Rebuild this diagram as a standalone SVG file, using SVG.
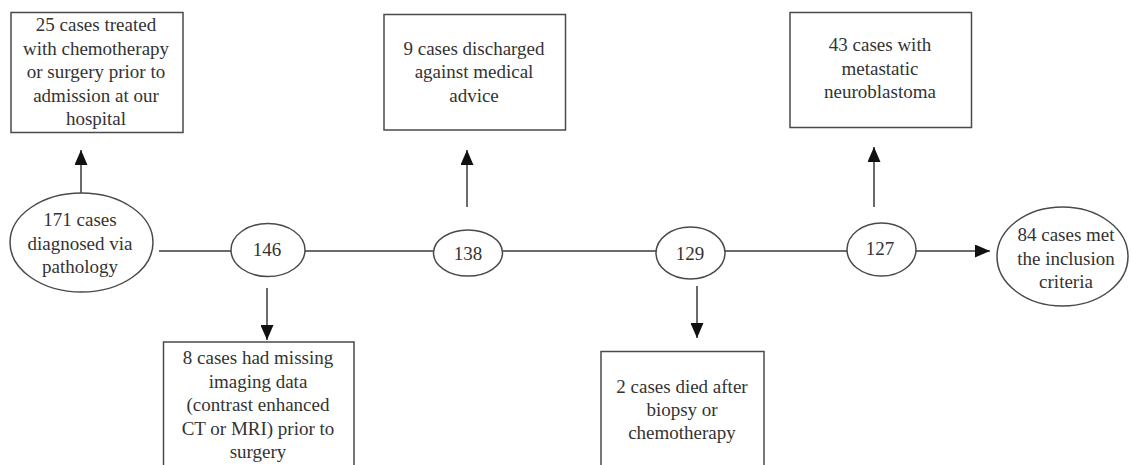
<svg xmlns="http://www.w3.org/2000/svg" width="1131" height="465" viewBox="0 0 1131 465">
  <style>
    .box { fill: #ffffff; stroke: #4a4a4a; stroke-width: 1.5; }
    .ell { fill: #ffffff; stroke: #4a4a4a; stroke-width: 1.5; }
    .t { font-family: "Liberation Serif", "Times New Roman", serif; font-size: 19px; fill: #333333; text-anchor: middle; }
    .ln { stroke: #3a3a3a; stroke-width: 1.5; fill: none; }
    .arr { stroke: #3a3a3a; stroke-width: 1.5; fill: none; marker-end: url(#ah); }
  </style>
  <defs>
    <marker id="ah" markerUnits="userSpaceOnUse" markerWidth="15" markerHeight="13" refX="15" refY="6.5" orient="auto">
      <path d="M0,0 L15,6.5 L0,13 z" fill="#111111"/>
    </marker>
  </defs>
  <rect width="1131" height="465" fill="#ffffff"/>

  <g id="connectors">
    <line class="arr" x1="81" y1="193" x2="81" y2="150"/>
    <line class="ln" x1="159" y1="251" x2="231" y2="251"/>
    <line class="ln" x1="305" y1="251" x2="433" y2="251"/>
    <line class="ln" x1="503" y1="251" x2="656" y2="251"/>
    <line class="ln" x1="725" y1="251" x2="847" y2="251"/>
    <line class="arr" x1="916" y1="251" x2="990" y2="251"/>
    <line class="arr" x1="267" y1="288" x2="267" y2="340"/>
    <line class="arr" x1="467" y1="207" x2="467" y2="150"/>
    <line class="arr" x1="697" y1="286" x2="697" y2="338"/>
    <line class="arr" x1="874" y1="207" x2="874" y2="147"/>
  </g>

  <g id="n171">
    <ellipse class="ell" cx="81.5" cy="242.5" rx="71.5" ry="49.5"/>
    <text class="t" x="80" y="226">171 cases</text>
    <text class="t" x="80" y="249.5">diagnosed via</text>
    <text class="t" x="80" y="273">pathology</text>
  </g>

  <g id="box25">
    <rect class="box" x="11" y="12.5" width="172" height="120"/>
    <text class="t" x="96" y="31">25 cases treated</text>
    <text class="t" x="96" y="54.5">with chemotherapy</text>
    <text class="t" x="96" y="78">or surgery prior to</text>
    <text class="t" x="96" y="101.5">admission at our</text>
    <text class="t" x="96" y="125">hospital</text>
  </g>

  <g id="n146">
    <ellipse class="ell" cx="268" cy="250" rx="37" ry="26.5"/>
    <text class="t" x="267" y="256">146</text>
  </g>

  <g id="box8">
    <rect class="box" x="163.5" y="342" width="190.5" height="130"/>
    <text class="t" x="258" y="364">8 cases had missing</text>
    <text class="t" x="258" y="387.5">imaging data</text>
    <text class="t" x="258" y="411">(contrast enhanced</text>
    <text class="t" x="258" y="434.5">CT or MRI) prior to</text>
    <text class="t" x="258" y="458">surgery</text>
  </g>

  <g id="n138">
    <ellipse class="ell" cx="468" cy="253" rx="34.5" ry="23"/>
    <text class="t" x="468" y="259.5">138</text>
  </g>

  <g id="box9">
    <rect class="box" x="384" y="14.5" width="181.5" height="115.5"/>
    <text class="t" x="474" y="54.5">9 cases discharged</text>
    <text class="t" x="474" y="78">against medical</text>
    <text class="t" x="474" y="101.5">advice</text>
  </g>

  <g id="n129">
    <ellipse class="ell" cx="690.5" cy="253" rx="34.5" ry="26"/>
    <text class="t" x="690" y="259.5">129</text>
  </g>

  <g id="box2">
    <rect class="box" x="601" y="351.5" width="163" height="120"/>
    <text class="t" x="682" y="393">2 cases died after</text>
    <text class="t" x="682" y="416">biopsy or</text>
    <text class="t" x="682" y="439">chemotherapy</text>
  </g>

  <g id="n127">
    <ellipse class="ell" cx="881.5" cy="249.5" rx="34.5" ry="26.5"/>
    <text class="t" x="880" y="255">127</text>
  </g>

  <g id="box43">
    <rect class="box" x="790" y="12.5" width="181.5" height="115"/>
    <text class="t" x="880" y="51">43 cases with</text>
    <text class="t" x="880" y="74.5">metastatic</text>
    <text class="t" x="880" y="98">neuroblastoma</text>
  </g>

  <g id="n84">
    <ellipse class="ell" cx="1062.5" cy="256.5" rx="65.5" ry="49.5"/>
    <text class="t" x="1066" y="241">84 cases met</text>
    <text class="t" x="1066" y="264.5">the inclusion</text>
    <text class="t" x="1066" y="288">criteria</text>
  </g>
</svg>
